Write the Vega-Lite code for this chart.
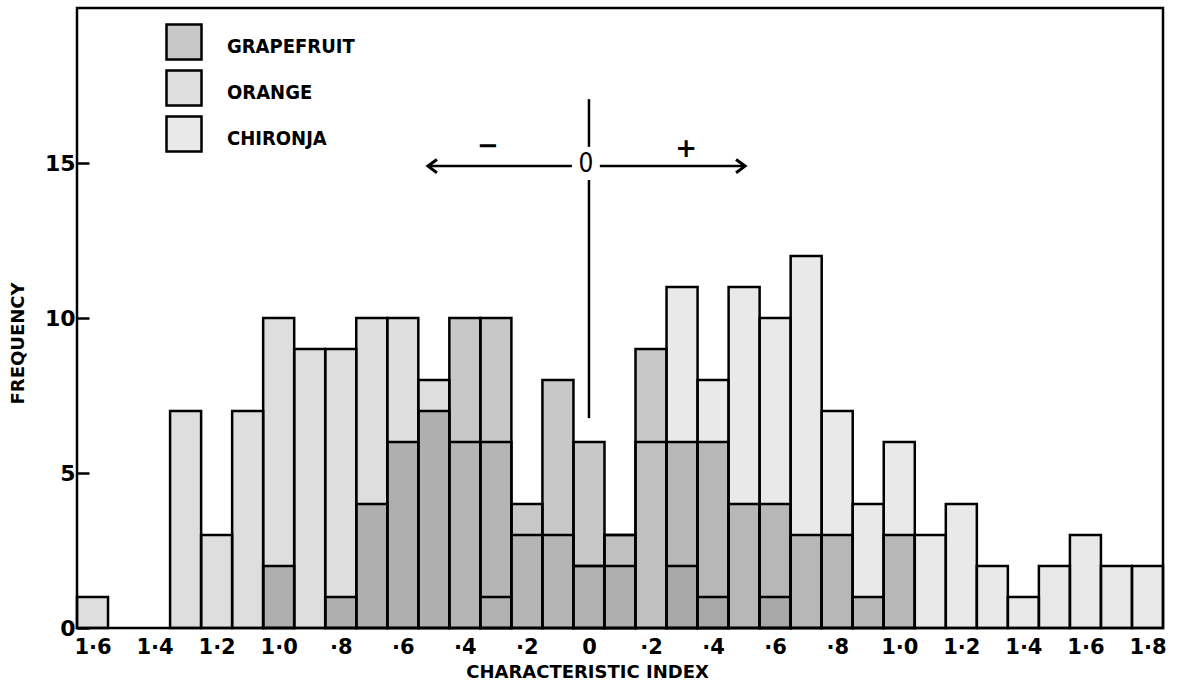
{
  "$schema": "https://vega.github.io/schema/vega-lite/v6.json",
  "width": 1086,
  "height": 620,
  "autosize": "none",
  "padding": {"left": 77, "top": 8, "right": 17, "bottom": 57},
  "background": "white",
  "config": {"view": {"stroke": "black", "strokeWidth": 2.5}, "font": "DejaVu Sans"},
  "datasets": {
    "bars": [
      {"lo": -1.65, "hi": -1.55, "fruit": "ORANGE", "n": 1},
      {"lo": -1.35, "hi": -1.25, "fruit": "ORANGE", "n": 7},
      {"lo": -1.25, "hi": -1.15, "fruit": "ORANGE", "n": 3},
      {"lo": -1.15, "hi": -1.05, "fruit": "ORANGE", "n": 7},
      {"lo": -1.05, "hi": -0.95, "fruit": "ORANGE", "n": 10},
      {"lo": -1.05, "hi": -0.95, "fruit": "GRAPEFRUIT", "n": 2},
      {"lo": -0.95, "hi": -0.85, "fruit": "ORANGE", "n": 9},
      {"lo": -0.85, "hi": -0.75, "fruit": "ORANGE", "n": 9},
      {"lo": -0.85, "hi": -0.75, "fruit": "GRAPEFRUIT", "n": 1},
      {"lo": -0.75, "hi": -0.65, "fruit": "ORANGE", "n": 10},
      {"lo": -0.75, "hi": -0.65, "fruit": "GRAPEFRUIT", "n": 4},
      {"lo": -0.65, "hi": -0.55, "fruit": "ORANGE", "n": 10},
      {"lo": -0.65, "hi": -0.55, "fruit": "GRAPEFRUIT", "n": 6},
      {"lo": -0.55, "hi": -0.45, "fruit": "ORANGE", "n": 8},
      {"lo": -0.55, "hi": -0.45, "fruit": "GRAPEFRUIT", "n": 7},
      {"lo": -0.45, "hi": -0.35, "fruit": "GRAPEFRUIT", "n": 10},
      {"lo": -0.45, "hi": -0.35, "fruit": "ORANGE", "n": 6},
      {"lo": -0.35, "hi": -0.25, "fruit": "GRAPEFRUIT", "n": 10},
      {"lo": -0.35, "hi": -0.25, "fruit": "ORANGE", "n": 6},
      {"lo": -0.35, "hi": -0.25, "fruit": "CHIRONJA", "n": 1},
      {"lo": -0.25, "hi": -0.15, "fruit": "GRAPEFRUIT", "n": 4},
      {"lo": -0.25, "hi": -0.15, "fruit": "ORANGE", "n": 3},
      {"lo": -0.15, "hi": -0.05, "fruit": "GRAPEFRUIT", "n": 8},
      {"lo": -0.15, "hi": -0.05, "fruit": "ORANGE", "n": 3},
      {"lo": -0.05, "hi": 0.05, "fruit": "GRAPEFRUIT", "n": 6},
      {"lo": -0.05, "hi": 0.05, "fruit": "ORANGE", "n": 2},
      {"lo": -0.05, "hi": 0.05, "fruit": "CHIRONJA", "n": 2},
      {"lo": 0.05, "hi": 0.15, "fruit": "GRAPEFRUIT", "n": 3},
      {"lo": 0.05, "hi": 0.15, "fruit": "CHIRONJA", "n": 3},
      {"lo": 0.05, "hi": 0.15, "fruit": "ORANGE", "n": 2},
      {"lo": 0.15, "hi": 0.25, "fruit": "GRAPEFRUIT", "n": 9},
      {"lo": 0.15, "hi": 0.25, "fruit": "CHIRONJA", "n": 6},
      {"lo": 0.25, "hi": 0.35, "fruit": "CHIRONJA", "n": 11},
      {"lo": 0.25, "hi": 0.35, "fruit": "GRAPEFRUIT", "n": 6},
      {"lo": 0.25, "hi": 0.35, "fruit": "ORANGE", "n": 2},
      {"lo": 0.35, "hi": 0.45, "fruit": "CHIRONJA", "n": 8},
      {"lo": 0.35, "hi": 0.45, "fruit": "GRAPEFRUIT", "n": 6},
      {"lo": 0.35, "hi": 0.45, "fruit": "ORANGE", "n": 1},
      {"lo": 0.45, "hi": 0.55, "fruit": "CHIRONJA", "n": 11},
      {"lo": 0.45, "hi": 0.55, "fruit": "GRAPEFRUIT", "n": 4},
      {"lo": 0.55, "hi": 0.65, "fruit": "CHIRONJA", "n": 10},
      {"lo": 0.55, "hi": 0.65, "fruit": "GRAPEFRUIT", "n": 4},
      {"lo": 0.55, "hi": 0.65, "fruit": "ORANGE", "n": 1},
      {"lo": 0.65, "hi": 0.75, "fruit": "CHIRONJA", "n": 12},
      {"lo": 0.65, "hi": 0.75, "fruit": "GRAPEFRUIT", "n": 3},
      {"lo": 0.75, "hi": 0.85, "fruit": "CHIRONJA", "n": 7},
      {"lo": 0.75, "hi": 0.85, "fruit": "GRAPEFRUIT", "n": 3},
      {"lo": 0.85, "hi": 0.95, "fruit": "CHIRONJA", "n": 4},
      {"lo": 0.85, "hi": 0.95, "fruit": "GRAPEFRUIT", "n": 1},
      {"lo": 0.95, "hi": 1.05, "fruit": "CHIRONJA", "n": 6},
      {"lo": 0.95, "hi": 1.05, "fruit": "GRAPEFRUIT", "n": 3},
      {"lo": 1.05, "hi": 1.15, "fruit": "CHIRONJA", "n": 3},
      {"lo": 1.15, "hi": 1.25, "fruit": "CHIRONJA", "n": 4},
      {"lo": 1.25, "hi": 1.35, "fruit": "CHIRONJA", "n": 2},
      {"lo": 1.35, "hi": 1.45, "fruit": "CHIRONJA", "n": 1},
      {"lo": 1.45, "hi": 1.55, "fruit": "CHIRONJA", "n": 2},
      {"lo": 1.55, "hi": 1.65, "fruit": "CHIRONJA", "n": 3},
      {"lo": 1.65, "hi": 1.75, "fruit": "CHIRONJA", "n": 2},
      {"lo": 1.75, "hi": 1.85, "fruit": "CHIRONJA", "n": 2}
    ],
    "vsegs": [
      {"lo": 0, "n": 17.06, "n2": 15.52},
      {"lo": 0, "n": 14.45, "n2": 6.77}
    ],
    "hsegs": [
      {"lo": -0.519, "hi": -0.055, "n": 14.9},
      {"lo": 0.035, "hi": 0.503, "n": 14.9}
    ],
    "heads": [
      {"lo": -0.519, "n": 14.9, "dir": "left"},
      {"lo": 0.503, "n": 14.9, "dir": "right"}
    ],
    "zero": [
      {"lo": -0.01, "n": 14.98, "t": "0"}
    ],
    "signs": [
      {"lo": -0.326, "n": 15.55, "t": "−"},
      {"lo": 0.313, "n": 15.45, "t": "+"}
    ]
  },
  "layer": [
    {
      "data": {"name": "bars"},
      "mark": {"type": "bar", "fillOpacity": 0.25, "stroke": "black", "strokeWidth": 2.5},
      "encoding": {
        "x": {
          "field": "lo", "type": "quantitative",
          "scale": {"domain": [-1.65, 1.85], "nice": false, "zero": false},
          "axis": {
            "values": [-1.6, -1.4, -1.2, -1.0, -0.8, -0.6, -0.4, -0.2, 0, 0.2, 0.4, 0.6, 0.8, 1.0, 1.2, 1.4, 1.6, 1.8],
            "labelExpr": "datum.value == 0 ? '0' : (abs(datum.value) < 0.95 ? '·' + round(abs(datum.value) * 10) : '1·' + (round(abs(datum.value) * 10) - 10))",
            "labelFont": "DejaVu Sans", "labelFontSize": 21, "labelFontWeight": "bold", "labelColor": "black",
            "labelPadding": 8, "labelFlush": false, "labelOverlap": false,
            "ticks": false, "domain": false, "grid": false,
            "title": "CHARACTERISTIC INDEX",
            "titleFont": "DejaVu Sans", "titleFontSize": 18, "titleFontWeight": "bold", "titleColor": "black",
            "titleX": 510, "titleY": 44, "titleAlign": "center", "titleBaseline": "middle"
          }
        },
        "x2": {"field": "hi"},
        "y": {
          "field": "n", "type": "quantitative", "stack": null,
          "scale": {"domain": [0, 20], "nice": false},
          "axis": {
            "values": [0, 5, 10, 15],
            "labelFont": "DejaVu Sans", "labelFontSize": 22, "labelFontWeight": "bold", "labelColor": "black",
            "tickSize": -12, "tickWidth": 2.5, "tickColor": "black", "labelPadding": 14,
            "domain": false, "grid": false,
            "title": "FREQUENCY",
            "titleFont": "DejaVu Sans", "titleFontSize": 18, "titleFontWeight": "bold", "titleColor": "black",
            "titleX": -59, "titleY": 335, "titleAngle": -90, "titleAlign": "center", "titleBaseline": "middle"
          }
        },
        "y2": {"datum": 0},
        "color": {
          "field": "fruit", "type": "nominal",
          "scale": {"domain": ["GRAPEFRUIT", "ORANGE", "CHIRONJA"], "range": ["#222222", "#7a7a7a", "#a8a8a8"]},
          "legend": {
            "orient": "none", "legendX": 88, "legendY": 15, "title": null,
            "symbolType": "square", "symbolSize": 1225, "symbolStrokeColor": "black", "symbolStrokeWidth": 2.5,
            "labelFont": "DejaVu Sans Condensed", "labelFontSize": 20, "labelFontWeight": "bold", "labelColor": "black",
            "labelOffset": 24, "rowPadding": 0,
            "encode": {
              "symbols": {"update": {"fillOpacity": {"value": 0.25}, "stroke": {"value": "black"}}},
              "labels": {"update": {"dy": {"value": 5}}}
            }
          }
        }
      }
    },
    {
      "data": {"name": "vsegs"},
      "mark": {"type": "rule", "stroke": "black", "strokeWidth": 2.5},
      "encoding": {
        "x": {"field": "lo", "type": "quantitative"},
        "y": {"field": "n", "type": "quantitative"},
        "y2": {"field": "n2"}
      }
    },
    {
      "data": {"name": "hsegs"},
      "mark": {"type": "rule", "stroke": "black", "strokeWidth": 2.5},
      "encoding": {
        "x": {"field": "lo", "type": "quantitative"},
        "x2": {"field": "hi"},
        "y": {"field": "n", "type": "quantitative"}
      }
    },
    {
      "data": {"name": "heads"},
      "mark": {"type": "point", "filled": false, "stroke": "black", "strokeWidth": 3, "size": 144, "opacity": 1},
      "encoding": {
        "x": {"field": "lo", "type": "quantitative"},
        "y": {"field": "n", "type": "quantitative"},
        "shape": {
          "field": "dir", "type": "nominal", "legend": null,
          "scale": {"domain": ["left", "right"], "range": ["M1.5,-1.1L0,0L1.5,1.1", "M-1.5,-1.1L0,0L-1.5,1.1"]}
        }
      }
    },
    {
      "data": {"name": "zero"},
      "mark": {"type": "text", "font": "DejaVu Sans Condensed", "fontSize": 26, "color": "black", "align": "center", "baseline": "middle"},
      "encoding": {
        "x": {"field": "lo", "type": "quantitative"},
        "y": {"field": "n", "type": "quantitative"},
        "text": {"field": "t", "type": "nominal"}
      }
    },
    {
      "data": {"name": "signs"},
      "mark": {"type": "text", "font": "DejaVu Sans", "fontSize": 26, "fontWeight": "bold", "color": "black", "align": "center", "baseline": "middle"},
      "encoding": {
        "x": {"field": "lo", "type": "quantitative"},
        "y": {"field": "n", "type": "quantitative"},
        "text": {"field": "t", "type": "nominal"}
      }
    }
  ]
}
